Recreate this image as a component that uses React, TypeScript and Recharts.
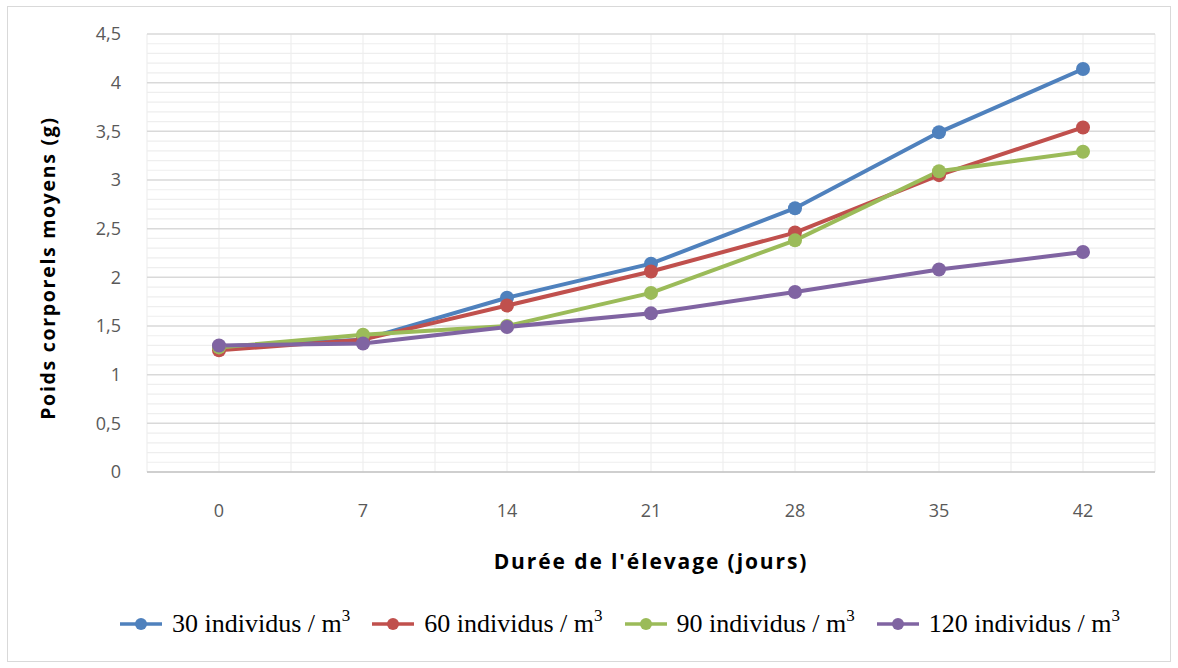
import React from 'react';
import { LineChart, Line, XAxis, YAxis, CartesianGrid, Legend, ReferenceLine } from 'recharts';

const days = [0, 7, 14, 21, 28, 35, 42];
const d30 = [1.29, 1.36, 1.79, 2.14, 2.71, 3.49, 4.14];
const d60 = [1.25, 1.36, 1.71, 2.06, 2.46, 3.05, 3.54];
const d90 = [1.28, 1.41, 1.5, 1.84, 2.38, 3.09, 3.29];
const d120 = [1.3, 1.32, 1.49, 1.63, 1.85, 2.08, 2.26];

const seriesNames = ['30 individus / m', '60 individus / m', '90 individus / m', '120 individus / m'];
const seriesKeys = ['s30', 's60', 's90', 's120'];
const seriesColors = ['#4F81BD', '#C0504D', '#9BBB59', '#8064A2'];

const yTicks = [0, 0.5, 1, 1.5, 2, 2.5, 3, 3.5, 4, 4.5];
const yMinorTicks = [
  0.1, 0.2, 0.3, 0.4, 0.6, 0.7, 0.8, 0.9, 1.1, 1.2, 1.3, 1.4, 1.6, 1.7, 1.8, 1.9,
  2.1, 2.2, 2.3, 2.4, 2.6, 2.7, 2.8, 2.9, 3.1, 3.2, 3.3, 3.4, 3.6, 3.7, 3.8, 3.9,
  4.1, 4.2, 4.3, 4.4,
];
const xGridTicks = [-3.5, 0, 3.5, 7, 10.5, 14, 17.5, 21, 24.5, 28, 31.5, 35, 38.5, 42, 45.5];

const data = days.map((d, i) => ({ day: d, s30: d30[i], s60: d60[i], s90: d90[i], s120: d120[i] }));

const LegendContent = () => (
  <div style={{ display: 'flex', justifyContent: 'center', alignItems: 'center', fontFamily: '"Liberation Serif", serif', fontSize: 26, color: '#000', paddingLeft: 62, lineHeight: '30px' }}>
    {seriesNames.map((n, i) => (
      <div key={n} style={{ display: 'flex', alignItems: 'center', marginRight: i < 3 ? 22 : 0 }}>
        <svg width={42} height={14} style={{ marginRight: 10 }}>
          <line x1={0} y1={7} x2={42} y2={7} stroke={seriesColors[i]} strokeWidth={3.5} />
          <circle cx={21} cy={7} r={6} fill={seriesColors[i]} />
        </svg>
        <span style={{ whiteSpace: 'nowrap' }}>
          {n}
          <sup style={{ fontSize: 17, verticalAlign: 'top', position: 'relative', top: -8 }}>3</sup>
        </span>
      </div>
    ))}
  </div>
);

export default function App() {
  return (
    <div style={{ position: 'absolute', left: 0, top: 0, width: 1178, height: 668, background: '#fff' }}>
      <div style={{ position: 'absolute', left: 7, top: 6, width: 1162, height: 654, border: '1px solid #d9d9d9' }} />
      <LineChart width={1178} height={668} data={data} margin={{ top: 34, right: 23, bottom: 156, left: 87 }}>
        <XAxis xAxisId="grid" type="number" dataKey="day" domain={[-3.5, 45.5]} ticks={xGridTicks} interval={0} hide />
        {yMinorTicks.map((t) => (
          <ReferenceLine key={'m' + t} y={t} xAxisId="grid" stroke="#eeeeee" strokeWidth={1.2} />
        ))}
        <CartesianGrid xAxisId="grid" yAxisId={0} horizontal={false} stroke="#eeeeee" strokeWidth={1.2} />
        <CartesianGrid xAxisId="grid" yAxisId={0} vertical={false} stroke="#d9d9d9" strokeWidth={1.5} />
        <XAxis
          type="number"
          dataKey="day"
          domain={[-3.5, 45.5]}
          ticks={days}
          interval={0}
          tickLine={false}
          axisLine={{ stroke: '#c8c8c8', strokeWidth: 1.5 }}
          tickSize={0}
          tickMargin={32}
          tick={{ fill: '#595959', fontSize: 18, fontFamily: '"Open Sans", sans-serif' }}
          label={{ value: "Durée de l'élevage (jours)", position: 'bottom', offset: 42, fill: '#000', fontSize: 21, fontWeight: 'bold', letterSpacing: 1.9, fontFamily: '"Open Sans", sans-serif' }}
          height={40}
        />
        <YAxis
          type="number"
          domain={[0, 4.5]}
          ticks={yTicks}
          interval={0}
          width={60}
          tickLine={false}
          axisLine={false}
          tickSize={0}
          tickMargin={26}
          tickFormatter={(v: number) => String(v).replace('.', ',')}
          tick={{ fill: '#595959', fontSize: 18, fontFamily: '"Open Sans", sans-serif' }}
          label={{ value: 'Poids corporels moyens (g)', angle: -90, position: 'insideLeft', dx: -44, dy: 15, style: { textAnchor: 'middle' }, fill: '#000', fontSize: 19.5, fontWeight: 'bold', letterSpacing: 1.7, fontFamily: '"Open Sans", sans-serif' }}
        />
        {seriesKeys.map((k, i) => (
          <Line
            key={k}
            type="linear"
            dataKey={k}
            name={seriesNames[i]}
            stroke={seriesColors[i]}
            strokeWidth={4}
            dot={{ r: 7, fill: seriesColors[i], stroke: seriesColors[i], strokeWidth: 0 }}
            isAnimationActive={false}
          />
        ))}
        <Legend
          layout="horizontal"
          verticalAlign="middle"
          content={<LegendContent />}
          wrapperStyle={{ position: 'absolute', left: 0, top: 609, width: 1178 }}
        />
      </LineChart>
    </div>
  );
}
